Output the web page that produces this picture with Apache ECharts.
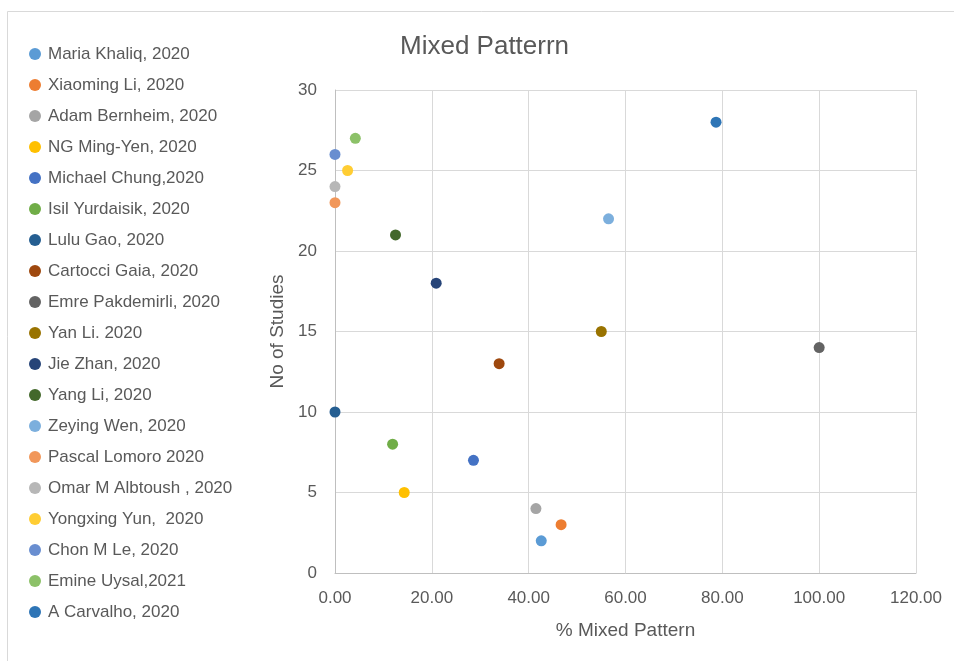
<!DOCTYPE html>
<html>
<head>
<meta charset="utf-8">
<script src="https://cdn.jsdelivr.net/npm/echarts@6/dist/echarts.min.js"></script>
<style>
  html, body { margin: 0; padding: 0; background: #fff; }
  #chart { width: 954px; height: 661px; }
</style>
</head>
<body>
<div id="chart"></div>
<script>
// Studies, their share of mixed pattern (%) and the study count position
const studyNames = [
  'Maria Khaliq, 2020', 'Xiaoming Li, 2020', 'Adam Bernheim, 2020', 'NG Ming-Yen, 2020',
  'Michael Chung,2020', 'Isil Yurdaisik, 2020', 'Lulu Gao, 2020', 'Cartocci Gaia, 2020',
  'Emre Pakdemirli, 2020', 'Yan Li. 2020', 'Jie Zhan, 2020', 'Yang Li, 2020',
  'Zeying Wen, 2020', 'Pascal Lomoro 2020', 'Omar M Albtoush , 2020', 'Yongxing Yun,  2020',
  'Chon M Le, 2020', 'Emine Uysal,2021', 'A Carvalho, 2020'
];
const mixedPct = [42.6, 46.7, 41.5, 14.3, 28.6, 11.9, 0, 33.9, 100, 55.0, 20.9, 12.5, 56.5, 0, 0, 2.6, 0, 4.2, 78.7];
const studyNo = [2, 3, 4, 5, 7, 8, 10, 13, 14, 15, 18, 21, 22, 23, 24, 25, 26, 27, 28];
const seriesColors = [
  '#5B9BD5', '#ED7D31', '#A5A5A5', '#FFC000', '#4472C4', '#70AD47',
  '#255E91', '#9E480E', '#636363', '#997300', '#264478', '#43682B',
  '#7CAFDD', '#F1975A', '#B7B7B7', '#FFCD33', '#698ED0', '#8CC168', '#2E75B6'
];
const xTicks = { min: 0, max: 120, interval: 20 };
const yTicks = { min: 0, max: 30, interval: 5 };

const textColor = '#595959';
const fontFamily = 'Liberation Sans, Arial, sans-serif';

const chart = echarts.init(document.getElementById('chart'), null, { renderer: 'canvas' });

const series = studyNames.map((name, i) => ({
  name: name,
  type: 'scatter',
  symbol: 'circle',
  symbolSize: 11,
  itemStyle: { color: seriesColors[i], opacity: 1 },
  data: [[mixedPct[i], studyNo[i]]]
}));

chart.setOption({
  backgroundColor: '#fff',
  animation: false,
  color: seriesColors,
  graphic: [{
    type: 'rect',
    shape: { x: 7.5, y: 11.5, width: 1000, height: 700 },
    style: { fill: 'none', stroke: '#D9D9D9', lineWidth: 1 },
    silent: true,
    z: -1
  }, {
    type: 'text',
    left: 400,
    top: 34,
    style: {
      text: 'Mixed Patterrn',
      fill: textColor,
      font: '26px ' + fontFamily
    },
    silent: true
  }],
  legend: {
    orient: 'vertical',
    left: 24,
    top: 40,
    icon: 'circle',
    itemWidth: 12,
    itemHeight: 12,
    itemGap: 13,
    selectedMode: false,
    textStyle: { color: textColor, fontSize: 17, fontFamily: fontFamily, lineHeight: 18, padding: [0, 0, 0, 2] },
    data: studyNames
  },
  grid: { left: 335, right: 38, top: 90, bottom: 88, containLabel: false },
  xAxis: {
    type: 'value',
    min: xTicks.min, max: xTicks.max, interval: xTicks.interval,
    name: '% Mixed Pattern',
    nameLocation: 'middle',
    nameGap: 48,
    nameTextStyle: { color: textColor, fontSize: 19, fontFamily: fontFamily },
    axisLine: { show: true, lineStyle: { color: '#BFBFBF', width: 1 } },
    axisTick: { show: false },
    axisLabel: {
      color: textColor, fontSize: 17, fontFamily: fontFamily, margin: 17,
      formatter: v => v.toFixed(2)
    },
    splitLine: { show: true, lineStyle: { color: '#D9D9D9', width: 1 } }
  },
  yAxis: {
    type: 'value',
    min: yTicks.min, max: yTicks.max, interval: yTicks.interval,
    name: 'No of Studies',
    nameLocation: 'middle',
    nameGap: 45,
    nameTextStyle: { color: textColor, fontSize: 19, fontFamily: fontFamily },
    axisLine: { show: true, lineStyle: { color: '#BFBFBF', width: 1 } },
    axisTick: { show: false },
    axisLabel: { color: textColor, fontSize: 17, fontFamily: fontFamily, margin: 18 },
    splitLine: { show: true, lineStyle: { color: '#D9D9D9', width: 1 } }
  },
  series: series
});
</script>
</body>
</html>
